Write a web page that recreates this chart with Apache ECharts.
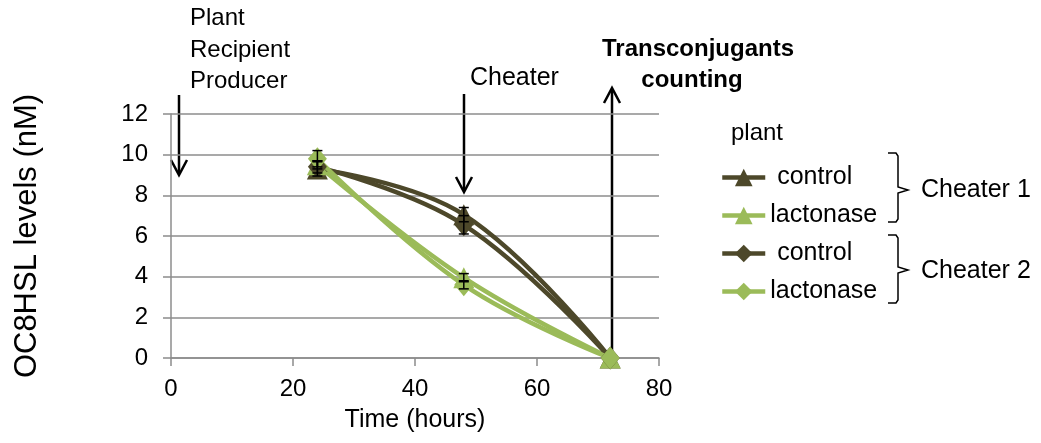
<!DOCTYPE html>
<html>
<head>
<meta charset="utf-8">
<script src="https://cdn.jsdelivr.net/npm/echarts@6/dist/echarts.min.js"></script>
<style>
html,body{margin:0;padding:0;background:#fff;}
#chart{width:1041px;height:443px;}
</style>
</head>
<body>
<div id="chart"></div>
<script>
// ---- data ----
var times = [24, 48, 72];
var c1Control = [9.3, 7.05, 0];
var c1Lactonase = [9.5, 3.95, 0];
var c2Control = [9.4, 6.55, 0];
var c2Lactonase = [9.8, 3.6, 0];
var c1ControlErr = [0.35, 0.35, 0];
var c1LactonaseErr = [0.2, 0.2, 0];
var c2ControlErr = [0.3, 0.45, 0];
var c2LactonaseErr = [0.4, 0.2, 0];
var seriesNames = ['c1control', 'c1lactonase', 'c2control', 'c2lactonase'];
var legendLabels = [' control', 'lactonase', ' control', 'lactonase'];
var xTicks = [0, 20, 40, 60, 80];
var yTicks = [0, 2, 4, 6, 8, 10, 12];

var DARK = '#4d482a';
var GREEN = '#9bbb59';
var FONT = 'Liberation Sans, Arial, sans-serif';

function pairs(vals) { return times.map(function (t, i) { return [t, vals[i]]; }); }

var seriesDefs = [
  { name: seriesNames[0], vals: c1Control, err: c1ControlErr, color: DARK, symbol: 'triangle', size: 21 },
  { name: seriesNames[1], vals: c1Lactonase, err: c1LactonaseErr, color: GREEN, symbol: 'triangle', size: 21 },
  { name: seriesNames[2], vals: c2Control, err: c2ControlErr, color: DARK, symbol: 'diamond', size: [19, 23] },
  { name: seriesNames[3], vals: c2Lactonase, err: c2LactonaseErr, color: GREEN, symbol: 'diamond', size: [19, 23] }
];

var series = [];
seriesDefs.forEach(function (d) {
  series.push({
    name: d.name,
    type: 'line',
    smooth: 0.4,
    data: pairs(d.vals),
    symbol: d.symbol,
    symbolSize: d.size,
    showAllSymbol: true,
    lineStyle: { color: d.color, width: 4.5 },
    itemStyle: { color: d.color },
    emphasis: { disabled: true },
    z: 3
  });
});

var errData = [];
seriesDefs.forEach(function (d) {
  times.forEach(function (t, i) {
    if (d.err[i] > 0) errData.push([t, d.vals[i] - d.err[i], d.vals[i] + d.err[i]]);
  });
});
series.push({
  type: 'custom',
  name: 'err',
  data: errData,
  z: 4,
  silent: true,
  renderItem: function (params, api) {
    var lo = api.coord([api.value(0), api.value(1)]);
    var hi = api.coord([api.value(0), api.value(2)]);
    var hw = 5;
    var st = { stroke: '#000', lineWidth: 1.5 };
    return {
      type: 'group',
      children: [
        { type: 'line', shape: { x1: lo[0], y1: lo[1], x2: hi[0], y2: hi[1] }, style: st },
        { type: 'line', shape: { x1: lo[0] - hw, y1: lo[1], x2: lo[0] + hw, y2: lo[1] }, style: st },
        { type: 'line', shape: { x1: hi[0] - hw, y1: hi[1], x2: hi[0] + hw, y2: hi[1] }, style: st }
      ]
    };
  }
});

function arrowDown(x, y1, y2) {
  return [
    { type: 'line', shape: { x1: x, y1: y1, x2: x, y2: y2 - 1 }, style: { stroke: '#000', lineWidth: 2.5 } },
    { type: 'polyline', shape: { points: [[x - 8, y2 - 15], [x, y2], [x + 8, y2 - 15]] }, style: { stroke: '#000', lineWidth: 2.5, fill: null } }
  ];
}
function arrowUp(x, y1, y2) {
  return [
    { type: 'line', shape: { x1: x, y1: y1, x2: x, y2: y2 + 1 }, style: { stroke: '#000', lineWidth: 2.5 } },
    { type: 'polyline', shape: { points: [[x - 8, y2 + 15], [x, y2], [x + 8, y2 + 15]] }, style: { stroke: '#000', lineWidth: 2.5, fill: null } }
  ];
}
function brace(x, top, mid, bot) {
  var w = 10;
  return { type: 'polyline', shape: { points: [
    [x - w, top], [x - 2, top], [x, top + 3], [x, mid - 3], [x + 10, mid], [x, mid + 3], [x, bot - 3], [x - 2, bot], [x - w, bot]
  ] }, style: { stroke: '#000', lineWidth: 1.5, fill: null } };
}
function txt(x, y, s, opts) {
  opts = opts || {};
  return { type: 'text', x: x, y: y, style: { text: s, fill: '#000', font: (opts.bold ? 'bold ' : '') + (opts.size || 24) + 'px ' + FONT, textAlign: opts.align || 'left', textVerticalAlign: 'middle' } };
}

var graphics = [];
graphics.push(txt(190, 18, 'Plant'));
graphics.push(txt(190, 50, 'Recipient'));
graphics.push(txt(190, 81, 'Producer'));
graphics.push(txt(470, 78, 'Cheater', { size: 25 }));
graphics.push(txt(698, 49, 'Transconjugants', { bold: true, align: 'center' }));
graphics.push(txt(692, 80, 'counting', { bold: true, align: 'center' }));
graphics = graphics.concat(arrowDown(179, 95, 175));
graphics = graphics.concat(arrowDown(464, 94, 192));
graphics = graphics.concat(arrowUp(612, 358, 88));
graphics.push(txt(757, 133, 'plant', { align: 'center' }));
graphics.push(brace(898, 153, 190, 222));
graphics.push(brace(898, 235, 270, 303));
graphics.push(txt(921, 190, 'Cheater 1', { size: 25 }));
graphics.push(txt(921, 271, 'Cheater 2', { size: 25 }));

var option = {
  animation: false,
  backgroundColor: '#fff',
  textStyle: { fontFamily: FONT },
  grid: { left: 171, right: 382, top: 114, bottom: 85, containLabel: false },
  xAxis: {
    type: 'value', min: xTicks[0], max: xTicks[xTicks.length - 1], interval: 20,
    name: 'Time (hours)', nameLocation: 'middle', nameGap: 50,
    nameTextStyle: { fontSize: 25, color: '#000', fontFamily: FONT },
    axisLine: { show: true, lineStyle: { color: '#8c8c8c', width: 1.5 } },
    axisTick: { show: true, length: 8, lineStyle: { color: '#8c8c8c', width: 1.5 } },
    axisLabel: { fontSize: 24, color: '#000', margin: 19, fontFamily: FONT },
    splitLine: { show: false }
  },
  yAxis: {
    type: 'value', min: yTicks[0], max: yTicks[yTicks.length - 1], interval: 2,
    name: 'OC8HSL levels (nM)', nameLocation: 'middle', nameGap: 128, nameRotate: 90,
    nameTextStyle: { fontSize: 31, color: '#000', fontFamily: FONT },
    axisLine: { show: true, lineStyle: { color: '#8c8c8c', width: 1.5 } },
    axisTick: { show: true, length: 8, lineStyle: { color: '#8c8c8c', width: 1.5 } },
    axisLabel: { fontSize: 24, color: '#000', margin: 23, fontFamily: FONT },
    splitLine: { show: true, lineStyle: { color: '#8c8c8c', width: 1.5 } }
  },
  legend: {
    orient: 'vertical', left: 715, top: 160,
    data: seriesNames,
    itemWidth: 43, itemHeight: 22, itemGap: 13, itemTextGap: 5,
    selectedMode: false,
    lineStyle: { width: 4.5 },
    formatter: function (name) { return legendLabels[seriesNames.indexOf(name)]; },
    textStyle: { fontSize: 25, color: '#000', fontFamily: FONT, lineHeight: 24 }
  },
  graphic: graphics,
  series: series
};

var chart = echarts.init(document.getElementById('chart'), null, { renderer: 'canvas' });
chart.setOption(option);
</script>
</body>
</html>
